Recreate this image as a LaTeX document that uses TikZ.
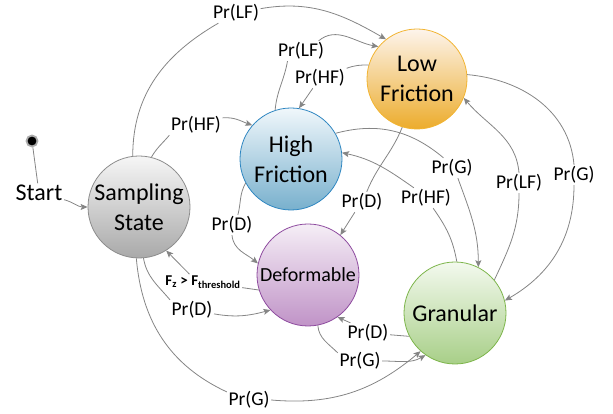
\documentclass[tikz,border=0pt]{standalone}
\usepackage{fontspec}
\setmainfont{Carlito}
\usetikzlibrary{arrows.meta}

\definecolor{lineGray}{HTML}{858585}
\definecolor{ssTop}{HTML}{F6F6F6}
\definecolor{ssBot}{HTML}{A9A9A9}
\definecolor{ssLine}{HTML}{8C8C8C}
\definecolor{hfTop}{HTML}{F0F7FB}
\definecolor{hfBot}{HTML}{78B0CD}
\definecolor{hfLine}{HTML}{2E86C1}
\definecolor{lfTop}{HTML}{FDF4EC}
\definecolor{lfBot}{HTML}{ECAC2C}
\definecolor{lfLine}{HTML}{F2B431}
\definecolor{dfTop}{HTML}{F5EEF6}
\definecolor{dfBot}{HTML}{C093C7}
\definecolor{dfLine}{HTML}{8E4B9F}
\definecolor{grTop}{HTML}{F3F9EE}
\definecolor{grBot}{HTML}{A8CF88}
\definecolor{grLine}{HTML}{7DB54B}

\tikzset{
  state/.style={circle, draw, line width=0.8pt, minimum size=102pt, inner sep=0pt,
    align=center, font=\fontsize{24}{30}\selectfont},
  lbl/.style={inner sep=1.5pt, font=\fontsize{19.5}{21}\selectfont},
  trans/.style={draw=lineGray, line width=0.8pt},
  transarr/.style={trans, -{Stealth[length=7pt,width=6pt,inset=1.5pt]}}
}

\begin{document}
\begin{tikzpicture}[x=1pt,y=1pt]
  \useasboundingbox (0,0) rectangle (613,414);

  % states
  \node[state, draw=ssLine, top color=ssTop, bottom color=ssBot] (ss) at (139,207) {Sampling\\State};
  \node[state, draw=hfLine, top color=hfTop, bottom color=hfBot] (hf) at (291,255) {High\\Friction};
  \node[state, draw=lfLine, top color=lfTop, bottom color=lfBot, minimum size=100pt] (lf) at (417,335) {Low\\Friction};
  \node[state, draw=dfLine, top color=dfTop, bottom color=dfBot, font=\fontsize{20}{24}\selectfont] (def) at (308,139) {Deformable};
  \node[state, draw=grLine, top color=grTop, bottom color=grBot] (gr) at (455,101) {Granular};
  \node[circle, fill=black, draw=gray!65, line width=1.8pt, inner sep=0pt, minimum size=11pt] (start) at (32,273) {};

  % labels
  \node[lbl, font=\fontsize{24}{28}\selectfont] (startlbl) at (39,221) {Start};
  \node[lbl] (ssLF) at (236,401) {Pr(LF)};
  \node[lbl] (ssHF) at (196,289) {Pr(HF)};
  \node[lbl] (hfLF) at (301,363) {Pr(LF)};
  \node[lbl] (lfHF) at (320,336) {Pr(HF)};
  \node[lbl] (hfD) at (232,189) {Pr(D)};
  \node[lbl] (lfD) at (362,212) {Pr(D)};
  \node[lbl] (hfG) at (452,246) {Pr(G)};
  \node[lbl] (grHF) at (426,216) {Pr(HF)};
  \node[lbl] (grLF) at (519,231) {Pr(LF)};
  \node[lbl] (lfG) at (574,239) {Pr(G)};
  \node[lbl, font=\fontsize{15}{17}\bfseries] (defFz) at (203,132) {F\textsubscript{z} > F\textsubscript{threshold}};
  \node[lbl] (ssD) at (192,104) {Pr(D)};
  \node[lbl] (grD) at (368,81) {Pr(D)};
  \node[lbl] (defG) at (360,53) {Pr(G)};
  \node[lbl] (ssG) at (249,14) {Pr(G)};

  % start
  \draw[trans] (start) -- (startlbl);
  \draw[transarr] (startlbl) to[out=-15,in=180] (ss);

  % from sampling state
  \draw[trans] (ss.97) to[out=90,in=-150] (ssLF);
  \draw[transarr] (ssLF) to[out=10,in=150] (lf.128);
  \draw[trans] (ss.76) to[out=60,in=-130] (ssHF.south west);
  \draw[transarr] (ssHF.15) to[out=5,in=160] (hf.139);
  \draw[trans] (ss.-85) to[out=-80,in=130] (ssD.north west);
  \draw[transarr] (ssD.-10) to[out=-10,in=-165] (def.223);
  \draw[trans] (ss.-93) to[out=-85,in=155] (ssG.160);
  \draw[transarr] (ssG.east) to[out=-5,in=-140] (gr.228);

  % from high friction
  \draw[trans] (hf.108) to[out=85,in=-100] (hfLF.217);
  \draw[transarr] (hfLF.30) to[out=40,in=170] (lf.140);
  \draw[trans] (hf.208) to[out=240,in=75] (hfD.60);
  \draw[transarr] (hfD.south) to[out=-85,in=140] (def.167);
  \draw[trans] (hf.30) to[out=15,in=140] (hfG.130);
  \draw[transarr] (hfG.-60) to[out=-70,in=90] (gr.63);

  % from low friction
  \draw[trans] (lf.164) to[out=178,in=20] (lfHF.20);
  \draw[transarr] (lfHF.235) -- (hf.81);
  \draw[trans] (lf.253) to[out=-112,in=68] (lfD.65);
  \draw[transarr] (lfD.235) -- (def.51);
  \draw[trans] (lf.5) to[out=-5,in=95] (lfG.north);
  \draw[transarr] (lfG.south) to[out=-90,in=30] (gr.14);

  % from deformable
  \draw[trans] (def.197) -- (defFz);
  \draw[transarr] (defFz.150) -- (ss.-58);
  \draw[trans] (def.-79) to[out=-85,in=135] (defG.160);
  \draw[transarr] (defG.east) to[out=0,in=-150] (gr.235);

  % from granular
  \draw[trans] (gr.88) to[out=100,in=-55] (grHF.-55);
  \draw[transarr] (grHF.140) to[out=145,in=-12] (hf.7);
  \draw[trans] (gr.40) to[out=65,in=-90] (grLF.south);
  \draw[transarr] (grLF.north) to[out=95,in=-50] (lf.-22);
  \draw[trans] (gr.207) -- (grD);
  \draw[transarr] (grD.150) -- (def.-55);
\end{tikzpicture}
\end{document}
